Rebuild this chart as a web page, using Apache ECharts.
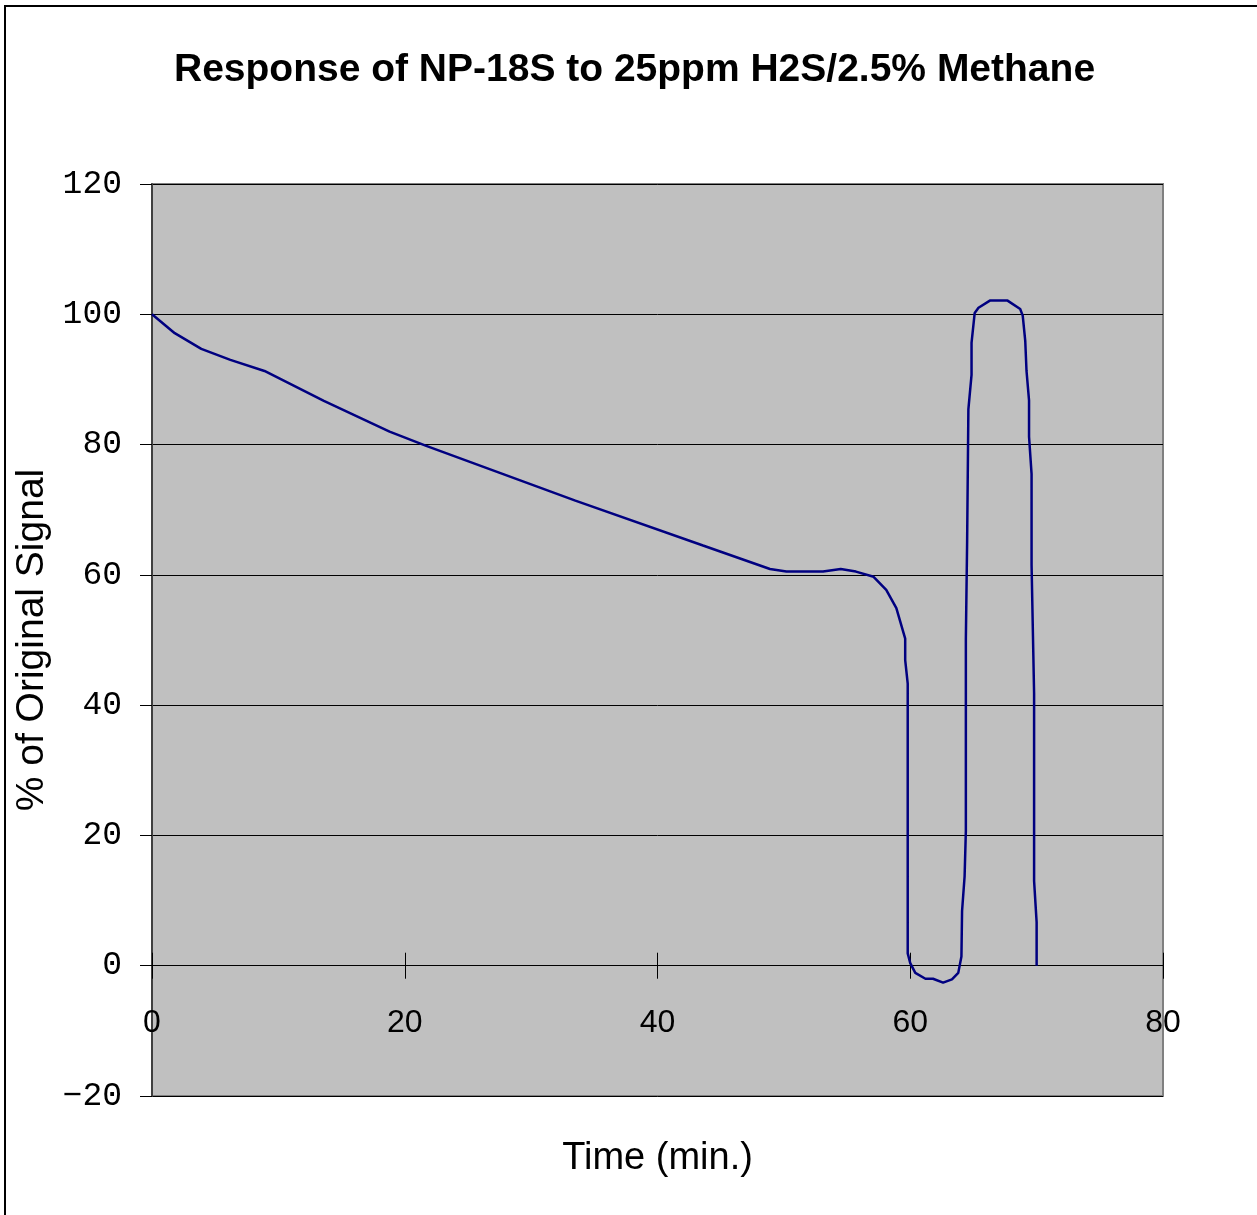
<!DOCTYPE html>
<html>
<head>
<meta charset="utf-8">
<script src="https://cdn.jsdelivr.net/npm/echarts@6/dist/echarts.min.js"></script>
<style>
html,body{margin:0;padding:0;background:#fff;}
#chart{width:1257px;height:1215px;}
</style>
</head>
<body>
<div id="chart"></div>
<script>
var chartTitle = "Response of NP-18S to 25ppm H2S/2.5% Methane";
var xName = "Time (min.)";
var yName = "% of Original Signal";
var xTicks = [0, 20, 40, 60, 80];
var yTicks = [-20, 0, 20, 40, 60, 80, 100, 120];

var timeMin = [0, 1.8, 3.9, 6.2, 8.9, 13.6, 18.8, 21.7, 30.7, 33.5, 43.6, 48.9, 50.2, 53.1, 54.5, 55.7, 57.1, 58.1, 58.9, 59.6, 59.6, 59.8,
  59.8, 60.0, 60.4, 61.2, 61.8, 62.6, 63.3, 63.8, 64.05, 64.1, 64.3, 64.4, 64.4, 64.5, 64.6, 64.85, 64.85, 65.1, 65.4, 66.3, 67.7,
  68.7, 68.9, 69.1, 69.2, 69.4, 69.4, 69.6, 69.6, 69.8, 69.8, 70.0, 70.0];
var signalPct = [100, 97.1, 94.7, 93.0, 91.3, 86.7, 82.0, 79.8, 73.4, 71.4, 64.5, 60.9, 60.5, 60.5, 60.9, 60.5, 59.7, 57.7, 54.9, 50.2, 46.9, 43.3,
  1.9, 0.4, -1.1, -2.0, -2.0, -2.6, -2.1, -1.1, 1.4, 8.4, 13.7, 20.7, 50.2, 65.0, 85.4, 90.7, 95.6, 100.2, 101.0, 102.1, 102.1,
  100.8, 99.8, 95.9, 91.3, 86.8, 81.2, 75.5, 61.5, 41.8, 13.0, 6.7, 0];

var points = timeMin.map(function (t, i) { return [t, signalPct[i]]; });

var chart = echarts.init(document.getElementById('chart'), null, {renderer: 'canvas'});
var xCommon = {
  type: 'value', min: xTicks[0], max: xTicks[xTicks.length - 1], interval: 20,
  splitLine: {show: false}
};
var gridCommon = {left: 152, right: 94, top: 184, bottom: 119, outerBoundsMode: 'none', containLabel: false};
chart.setOption({
  animation: false,
  backgroundColor: '#fff',
  graphic: [{
    type: 'rect', z: 100, silent: true,
    shape: {x: 5, y: 6, width: 1400, height: 1400},
    style: {fill: 'none', stroke: '#000', lineWidth: 2}
  }],
  title: {
    text: chartTitle, left: 169, top: 46,
    textStyle: {fontFamily: 'Liberation Sans, Arial, sans-serif', fontWeight: 'bold', fontSize: 39, color: '#000'}
  },
  grid: [
    Object.assign({}, gridCommon, {show: true, backgroundColor: '#c0c0c0', borderColor: '#808080', borderWidth: 2}),
    Object.assign({}, gridCommon, {show: false})
  ],
  xAxis: [
    Object.assign({}, xCommon, {
      gridIndex: 0, position: 'bottom',
      axisLine: {onZero: true, lineStyle: {color: '#000', width: 1}},
      axisTick: {show: true, inside: false, length: 13, lineStyle: {color: '#000'}},
      axisLabel: {margin: -89, fontFamily: 'Liberation Sans, Arial, sans-serif', fontSize: 32, color: '#000'},
      name: xName, nameLocation: 'middle', nameGap: 44,
      nameTextStyle: {fontFamily: 'Liberation Sans, Arial, sans-serif', fontSize: 38, color: '#000'}
    }),
    Object.assign({}, xCommon, {
      gridIndex: 1, position: 'bottom',
      axisLine: {onZero: true, lineStyle: {color: '#000', width: 1}},
      axisTick: {show: true, inside: true, length: 13, lineStyle: {color: '#000'}},
      axisLabel: {show: false}
    })
  ],
  yAxis: [{
    gridIndex: 0,
    type: 'value', min: yTicks[0], max: yTicks[yTicks.length - 1], interval: 20,
    axisLine: {show: true, onZero: false, lineStyle: {color: '#404040', width: 2}},
    axisTick: {show: true, inside: false, length: 12, lineStyle: {color: '#000'}},
    axisLabel: {
      margin: 30, fontFamily: "'Liberation Mono', 'Courier New', monospace", fontSize: 33, color: '#000',
      formatter: function (v) { return v < 0 ? '\u2212' + Math.abs(v) : String(v); }
    },
    splitLine: {show: true, lineStyle: {color: '#000', width: 1}},
    name: yName, nameLocation: 'middle', nameGap: 88, nameRotate: 90,
    nameTextStyle: {fontFamily: 'Liberation Sans, Arial, sans-serif', fontSize: 39, color: '#000'}
  }, {
    gridIndex: 1,
    type: 'value', min: yTicks[0], max: yTicks[yTicks.length - 1], interval: 20,
    axisLine: {show: false, onZero: false}, axisTick: {show: false}, axisLabel: {show: false}, splitLine: {show: false}
  }],
  series: [{
    type: 'line', xAxisIndex: 0, yAxisIndex: 0,
    data: points, showSymbol: false, smooth: false,
    lineStyle: {color: '#000080', width: 2.5}
  }]
});
</script>
</body>
</html>
